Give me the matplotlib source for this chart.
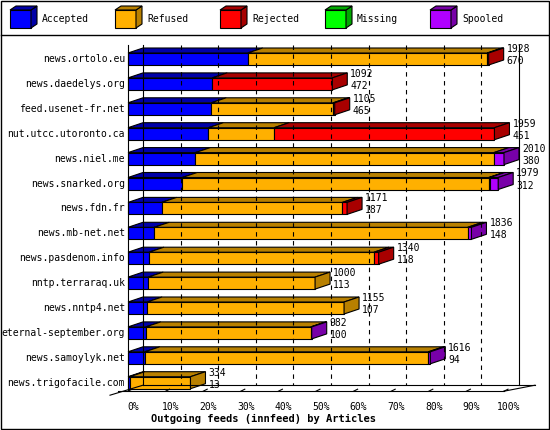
import matplotlib
matplotlib.use("Agg")
import matplotlib.pyplot as plt
from matplotlib.patches import Polygon, Rectangle

plt.rcParams["font.family"] = ["DejaVu Sans Mono"]

hosts = ["news.ortolo.eu", "news.daedelys.org", "feed.usenet-fr.net",
         "nut.utcc.utoronto.ca", "news.niel.me", "news.snarked.org",
         "news.fdn.fr", "news.mb-net.net", "news.pasdenom.info",
         "nntp.terraraq.uk", "news.nntp4.net", "eternal-september.org",
         "news.samoylyk.net", "news.trigofacile.com"]
accepted = [640, 450, 445, 430, 360, 290, 180, 140, 112, 108, 102, 95, 90, 10]
refused = [1280, 0, 652, 351, 1596, 1639, 966, 1676, 1203, 892, 1053, 882, 1516, 324]
rejected = [8, 642, 8, 1178, 0, 5, 25, 0, 25, 0, 0, 0, 0, 0]
missing = [0] * 14
spooled = [0, 0, 0, 0, 54, 45, 0, 20, 0, 0, 0, 5, 10, 0]
totals = [1928, 1092, 1105, 1959, 2010, 1979, 1171, 1836, 1340, 1000, 1155, 982, 1616, 334]
acc_label = [670, 472, 465, 451, 380, 312, 187, 148, 118, 113, 107, 100, 94, 13]

series = ["Accepted", "Refused", "Rejected", "Missing", "Spooled"]
front = ["#0000ff", "#ffb000", "#ff0000", "#00ff00", "#b000ff"]
dark = ["#0000a8", "#b88000", "#a80000", "#00a800", "#7800a8"]
ticks = [0, 10, 20, 30, 40, 50, 60, 70, 80, 90, 100]

W, H = 550, 430
FS = 7
fig = plt.figure(figsize=(W / 100, H / 100), dpi=100)

# pixel overlay for frame / legend
pa = fig.add_axes([0, 0, 1, 1])
pa.set_xlim(0, W); pa.set_ylim(H, 0); pa.axis("off")
pa.add_patch(Rectangle((1, 1), W - 2, H - 2, fill=False, lw=1, ec="black"))
pa.plot([1, W - 1], [35, 35], color="black", lw=1)
for i, name in enumerate(series):
    x0 = 10 + 105 * i
    pa.add_patch(Rectangle((x0, 10), 21, 18, fc=front[i], ec="black", lw=0.8))
    pa.add_patch(Polygon([(x0 + 21, 10), (x0 + 27, 6), (x0 + 27, 24), (x0 + 21, 28)],
                         fc=dark[i], ec="black", lw=0.8))
    pa.add_patch(Polygon([(x0, 10), (x0 + 6, 6), (x0 + 27, 6), (x0 + 21, 10)],
                         fc=dark[i], ec="black", lw=0.8))
    pa.text(x0 + 32, 19, name, va="center", ha="left", fontsize=FS)

# main data axes: x in articles, y in rows
maxv = max(totals)
k = maxv / 376.0          # articles per pixel
x0px, y0px, rowpx = 128, 59, 24.9
ax = fig.add_axes([0, 0, 1, 1], facecolor="none")
ax.set_xlim(-x0px * k, (W - x0px) * k)
ax.set_ylim((H - y0px) / rowpx, -y0px / rowpx)
ax.axis("off")
dx, dy = 15 * k, 5 / rowpx
hh = 6.0 / rowpx
nrow = len(hosts)
floor_y = nrow - 1 + hh + 1.5 / rowpx
lw = 0.8

# walls, grid and floor
ax.plot([dx, dx], [-14 / rowpx, floor_y - dy], color="black", lw=lw)
ax.plot([0, 0], [-14 / rowpx, floor_y], color="black", lw=lw)
ax.plot([maxv + dx, maxv + dx], [-14 / rowpx, floor_y - dy], color="black", lw=lw)
for t in ticks[1:-1]:
    xv = maxv * t / 100
    ax.plot([xv + dx, xv + dx], [-14 / rowpx, floor_y - dy], color="black", lw=lw,
            ls=(0, (4, 4)))
ax.plot([dx, maxv + dx + 16 * k], [floor_y - dy, floor_y - dy], color="black", lw=lw)
ax.plot([-10 * k, maxv], [floor_y + 1 / rowpx, floor_y + 1 / rowpx], color="black", lw=lw)
ax.plot([maxv, maxv + dx + 16 * k], [floor_y + 1 / rowpx, floor_y - dy], color="black", lw=lw)
ax.plot([-18 * k, dx], [floor_y + 5 / rowpx, floor_y - dy], color="black", lw=lw)
for t in ticks:
    xv = maxv * t / 100
    ax.plot([xv, xv + 4 * k], [floor_y + 1 / rowpx, floor_y - 1 / rowpx], color="black", lw=lw)
    ax.text(xv + 5 * k, floor_y + 17 / rowpx, f"{t}%", ha="center", va="center", fontsize=FS)
ax.text(maxv * 0.36, floor_y + 29 / rowpx, "Outgoing feeds (innfeed) by Articles",
        ha="center", va="center", fontsize=7.5, fontweight="bold")

for r, host in enumerate(hosts):
    vals = [accepted[r], refused[r], rejected[r], missing[r], spooled[r]]
    top, bot = r - hh, r + hh
    left = 0
    last = 0
    for i, v in enumerate(vals):
        if v <= 0:
            continue
        ax.add_patch(Rectangle((left, top), v, 2 * hh, fc=front[i], ec="black", lw=lw))
        ax.add_patch(Polygon([(left, top), (left + dx, top - dy), (left + v + dx, top - dy),
                              (left + v, top)], fc=dark[i], ec="black", lw=lw))
        left += v
        last = i
    ax.add_patch(Polygon([(left, top), (left + dx, top - dy), (left + dx, bot - dy),
                          (left, bot)], fc=dark[last], ec="black", lw=lw))
    ax.text(-3 * k, r, host, ha="right", va="center", fontsize=FS)
    ax.text(left + dx + 3 * k, top - dy + 1 / rowpx, str(totals[r]), ha="left",
            va="center", fontsize=FS)
    ax.text(left + dx + 3 * k, top - dy + 13 / rowpx, str(acc_label[r]), ha="left",
            va="center", fontsize=FS)

fig.savefig("out.png", dpi=100)
